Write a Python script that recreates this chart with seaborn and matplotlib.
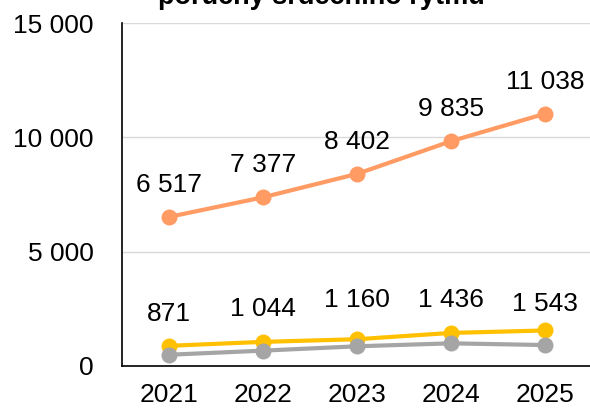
import matplotlib
matplotlib.use('Agg')
import matplotlib.pyplot as plt
import pandas as pd
import seaborn as sns
from matplotlib.ticker import FuncFormatter, MultipleLocator

# Data
years = ['2021', '2022', '2023', '2024', '2025']
series_a = [6517, 7377, 8402, 9835, 11038]   # orange
series_b = [871, 1044, 1160, 1436, 1543]     # yellow
series_c = [480, 660, 850, 980, 905]         # gray (no labels)
series_names = ['A', 'B', 'C']
colors = ['#FF9B63', '#FFC000', '#A5A5A5']
title = 'poruchy srdečního rytmu'

df = pd.DataFrame({
    'year': years * 3,
    'value': series_a + series_b + series_c,
    'series': [n for n in series_names for _ in years],
})

sns.set_style('white')
plt.rcParams['font.family'] = ['Liberation Sans', 'DejaVu Sans']
plt.rcParams['text.color'] = 'black'
plt.rcParams['xtick.color'] = 'black'
plt.rcParams['ytick.color'] = 'black'
FS = 19

fig = plt.figure(figsize=(5.9, 4.08), dpi=100)
ax = fig.add_axes([122 / 590, 42.3 / 408, 470 / 590, 342.4 / 408])

sns.lineplot(data=df, x='year', y='value', hue='series', palette=colors,
             marker='o', markersize=11.5, markeredgewidth=0, linewidth=3,
             legend=False, ax=ax, sort=False)

def fmt(v):
    return f'{int(v):,}'.replace(',', ' ')

# data labels
for i, v in enumerate(series_a):
    ax.annotate(fmt(v), (i, v), xytext=(0, 23), textcoords='offset points',
                ha='center', va='center', fontsize=FS)
b_offsets = [23, 24, 28, 24, 19]
for i, v in enumerate(series_b):
    ax.annotate(fmt(v), (i, v), xytext=(0, b_offsets[i]), textcoords='offset points',
                ha='center', va='center', fontsize=FS)

ax.set_ylim(0, 15000)
ax.set_xlim(-0.5, 4.5)
ax.yaxis.set_major_locator(MultipleLocator(5000))
ax.yaxis.set_major_formatter(FuncFormatter(lambda v, p: fmt(v)))
ax.grid(axis='y', color='#D9D9D9', linewidth=1)
ax.set_axisbelow(True)

ax.set_xticks(range(len(years)))
ax.set_xticklabels(years)
ax.set_xticks([i - 0.5 for i in range(len(years) + 1)], minor=True)
ax.tick_params(axis='x', which='major', length=0, pad=12.5, labelsize=FS, labelcolor='black')
ax.tick_params(axis='x', which='minor', length=6, width=1.2, color='black', direction='out')
ax.tick_params(axis='y', length=6, width=1.2, color='black', direction='out', pad=14.5,
               labelsize=FS, labelcolor='black')
ax.set_xlabel('')
ax.set_ylabel('')

for s in ['top', 'right']:
    ax.spines[s].set_visible(False)
for s in ['left', 'bottom']:
    ax.spines[s].set_color('black')
    ax.spines[s].set_linewidth(1.2)

fig.text(321 / 590, 1 - 4 / 408, title, ha='center', va='baseline',
         fontsize=19.5, fontweight='bold', color='black')

fig.savefig('out.png', dpi=100)
